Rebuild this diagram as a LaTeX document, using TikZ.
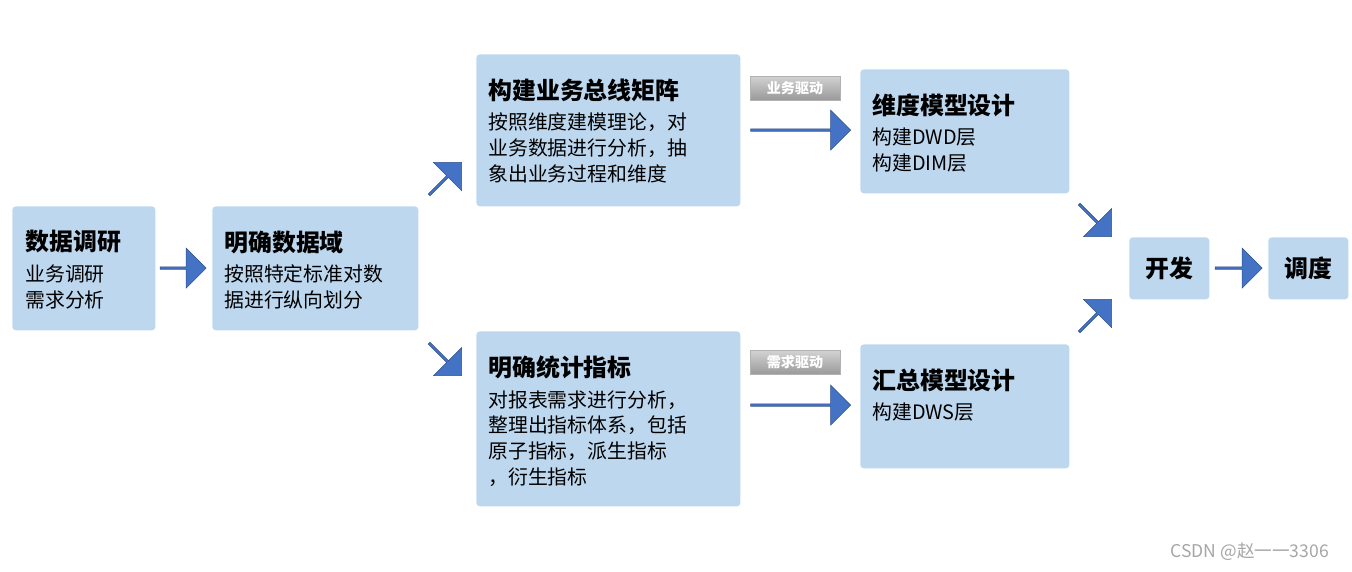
\documentclass[tikz,border=0pt]{standalone}
\usepackage{fontspec}
\setmainfont{Noto Sans CJK SC}
\usetikzlibrary{shapes.arrows,positioning}
\definecolor{boxblue}{HTML}{BDD7EE}
\definecolor{arrblue}{HTML}{4472C4}
\tikzset{
  stage/.style={draw=none,fill=boxblue,rounded corners=2pt,anchor=north west},
  txt/.style={anchor=north west,align=left,inner sep=0pt,font=\fontsize{11.3pt}{14.7pt}\selectfont},
  ttl/.style={anchor=west,inner sep=0pt,font=\fontsize{13.6pt}{16pt}\selectfont\bfseries},
  barrow/.style={single arrow,fill=arrblue,draw=arrblue!70!black,line width=0.3pt,minimum height=#1,minimum width=0.8cm,single arrow head extend=0.08cm,inner sep=0pt},
  tag/.style={top color=gray!35,bottom color=gray!80,draw=gray!60,text=white,font=\fontsize{8pt}{9pt}\selectfont\bfseries,minimum width=1.8cm,minimum height=0.48cm,inner sep=0pt}
}
\begin{document}
\begin{tikzpicture}
\useasboundingbox (0,0) rectangle (27.04,-11.42);

% stages
\node[stage,minimum width=2.86cm,minimum height=2.48cm] (yanjiu) at (0.24,-4.12) {};
\node[stage,minimum width=4.12cm,minimum height=2.48cm] (shujuyu) at (4.24,-4.12) {};
\node[stage,minimum width=5.28cm,minimum height=3.04cm] (zongxian) at (9.52,-1.08) {};
\node[stage,minimum width=5.28cm,minimum height=3.5cm] (zhibiao) at (9.52,-6.62) {};
\node[stage,minimum width=4.18cm,minimum height=2.48cm] (weidu) at (17.2,-1.38) {};
\node[stage,minimum width=4.18cm,minimum height=2.48cm] (huizong) at (17.2,-6.88) {};
\node[stage,minimum width=1.6cm,minimum height=1.24cm] (kaifa) at (22.58,-4.74) {};
\node[stage,minimum width=1.6cm,minimum height=1.24cm] (diaodu) at (25.36,-4.74) {};

% texts
\node[ttl] (t1) at ([xshift=0.26cm,yshift=-0.72cm]yanjiu.north west) {数据调研};
\node[txt] at ([yshift=-0.22cm]t1.south west) {业务调研\\需求分析};
\node[ttl] (t2) at ([xshift=0.24cm,yshift=-0.72cm]shujuyu.north west) {明确数据域};
\node[txt] at ([yshift=-0.22cm]t2.south west) {按照特定标准对数\\据进行纵向划分};
\node[ttl] (t3) at ([xshift=0.24cm,yshift=-0.72cm]zongxian.north west) {构建业务总线矩阵};
\node[txt] at ([yshift=-0.22cm]t3.south west) {按照维度建模理论，对\\业务数据进行分析，抽\\象出业务过程和维度};
\node[ttl] (t4) at ([xshift=0.24cm,yshift=-0.72cm]zhibiao.north west) {明确统计指标};
\node[txt] at ([yshift=-0.22cm]t4.south west) {对报表需求进行分析，\\整理出指标体系，包括\\原子指标，派生指标\\，衍生指标};
\node[ttl] (t5) at ([xshift=0.24cm,yshift=-0.72cm]weidu.north west) {维度模型设计};
\node[txt] at ([yshift=-0.22cm]t5.south west) {构建DWD层\\构建DIM层};
\node[ttl] (t6) at ([xshift=0.24cm,yshift=-0.72cm]huizong.north west) {汇总模型设计};
\node[txt] at ([yshift=-0.22cm]t6.south west) {构建DWS层};
\node[ttl,anchor=center] at (kaifa.center) {开发};
\node[ttl,anchor=center] at (diaodu.center) {调度};

% arrows
\node[barrow=0.92cm] (a1) at (3.65,-5.36) {};
\node[barrow=0.94cm] (a2) at (24.76,-5.36) {};
\node[barrow=0.92cm,rotate=45] (a3) at (8.9,-3.58) {};
\node[barrow=0.92cm,rotate=-45] (a4) at (8.9,-7.18) {};
\node[barrow=0.92cm,rotate=-45] (a5) at (21.9,-4.4) {};
\node[barrow=0.92cm,rotate=45] (a6) at (21.9,-6.32) {};
\node[barrow=2.0cm] (a7) at (16.0,-2.6) {};
\node[barrow=2.0cm] (a8) at (16.0,-8.1) {};

% tags
\node[tag] (g1) at (15.9,-1.76) {业务驱动};
\node[tag] (g2) at (15.9,-7.25) {需求驱动};

\node[text=gray!70,font=\fontsize{10pt}{12pt}\selectfont,anchor=east] (wm) at (26.7,-11.04) {CSDN @赵一一3306};
\end{tikzpicture}
\end{document}
